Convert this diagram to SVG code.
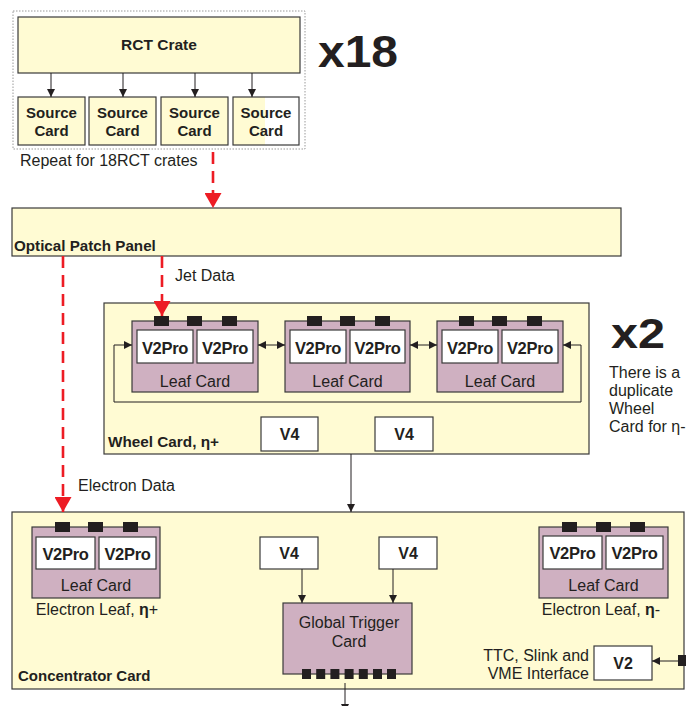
<svg xmlns="http://www.w3.org/2000/svg" width="686" height="706" viewBox="0 0 686 706">
<style>
.y{fill:#fffbd3;stroke:#3a3a3a;stroke-width:1.2}
.m{fill:#cfb0c1;stroke:#3a3a3a;stroke-width:1.2}
.w{fill:#ffffff;stroke:#3a3a3a;stroke-width:1.2}
.c{fill:#231f20}
.ln{stroke:#231f20;stroke-width:1;fill:none}
.red{stroke:#ed1c24;stroke-width:2.6;fill:none;stroke-dasharray:12 7}
text{font-family:"Liberation Sans",Arial,sans-serif;fill:#231f20}
.b{font-weight:bold}
.t15{font-size:15px}
.t16{font-size:16px}
.vp{font-size:16.5px;font-weight:bold;letter-spacing:-0.3px;text-anchor:middle}
.mid{text-anchor:middle}
.end{text-anchor:end}
</style>
<defs>
<marker id="ah" markerUnits="userSpaceOnUse" markerWidth="8" markerHeight="8" refX="8" refY="4" orient="auto-start-reverse"><path d="M0,0 L8,4 L0,8 z" fill="#231f20"/></marker>
<marker id="rh" markerUnits="userSpaceOnUse" markerWidth="16" markerHeight="17" refX="15" refY="8.5" orient="auto"><path d="M0,0 L15,8.5 L0,17 z" fill="#ed1c24"/></marker>
</defs>

<g id="rct-group">
<rect x="13" y="11" width="292" height="138" fill="#ffffff" stroke="#9a9a9a" stroke-width="1" stroke-dasharray="1.5 1.5"/>
</g>
<g id="rct-crate">
<rect class="y" x="18" y="17" width="282" height="56"/>
<text class="b mid" font-size="15.5" x="159" y="50">RCT Crate</text>
</g>
<g id="source-card-1">
<rect class="y" x="18" y="97" width="67" height="48"/>
<text class="b t15 mid" x="51.5" y="118">Source</text>
<text class="b t15 mid" x="51.5" y="136">Card</text>
</g>
<g id="source-card-2">
<rect class="y" x="89" y="97" width="67" height="48"/>
<text class="b t15 mid" x="122.5" y="118">Source</text>
<text class="b t15 mid" x="122.5" y="136">Card</text>
</g>
<g id="source-card-3">
<rect class="y" x="161" y="97" width="67" height="48"/>
<text class="b t15 mid" x="194.5" y="118">Source</text>
<text class="b t15 mid" x="194.5" y="136">Card</text>
</g>
<g id="source-card-4">
<rect x="233" y="97" width="66" height="48" fill="#ffffff"/>
<rect x="233" y="97" width="32" height="48" fill="#fffbd3"/>
<rect x="233" y="97" width="66" height="48" fill="none" stroke="#3a3a3a" stroke-width="1.2"/>
<text class="b t15 mid" x="266" y="118">Source</text>
<text class="b t15 mid" x="266" y="136">Card</text>
</g>
<text class="t16" x="20" y="166">Repeat for 18RCT crates</text>
<text class="b" x="318" y="67" font-size="44" textLength="80" lengthAdjust="spacingAndGlyphs">x18</text>

<g id="optical-patch-panel">
<rect class="y" x="12" y="208" width="609" height="48"/>
<text class="b" font-size="15.2" x="14" y="251">Optical Patch Panel</text>
</g>

<g id="wheel-card">
<rect class="y" x="104" y="303" width="485" height="151"/>
<text class="b" font-size="15.3" x="108" y="447">Wheel Card, η+</text>
</g>
<g id="wheel-leaf-1">
<rect class="m" x="132" y="321" width="126" height="71"/>
<rect class="c" x="154" y="316" width="15" height="10"/>
<rect class="c" x="187" y="316" width="15" height="10"/>
<rect class="c" x="222" y="316" width="15" height="10"/>
<rect class="w" x="137" y="330" width="56" height="33"/>
<rect class="w" x="197" y="330" width="56" height="33"/>
<text class="vp" x="165" y="354">V2Pro</text>
<text class="vp" x="225" y="354">V2Pro</text>
<text class="t16 mid" x="195" y="387">Leaf Card</text>
</g>
<g id="wheel-leaf-2">
<rect class="m" x="285" y="321" width="125" height="71"/>
<rect class="c" x="307" y="316" width="15" height="10"/>
<rect class="c" x="340" y="316" width="15" height="10"/>
<rect class="c" x="375" y="316" width="15" height="10"/>
<rect class="w" x="290" y="330" width="56" height="33"/>
<rect class="w" x="350" y="330" width="55" height="33"/>
<text class="vp" x="318" y="354">V2Pro</text>
<text class="vp" x="377.5" y="354">V2Pro</text>
<text class="t16 mid" x="347.5" y="387">Leaf Card</text>
</g>
<g id="wheel-leaf-3">
<rect class="m" x="437" y="321" width="126" height="71"/>
<rect class="c" x="459" y="316" width="15" height="10"/>
<rect class="c" x="492" y="316" width="15" height="10"/>
<rect class="c" x="527" y="316" width="15" height="10"/>
<rect class="w" x="442" y="330" width="56" height="33"/>
<rect class="w" x="502" y="330" width="56" height="33"/>
<text class="vp" x="470" y="354">V2Pro</text>
<text class="vp" x="530" y="354">V2Pro</text>
<text class="t16 mid" x="500" y="387">Leaf Card</text>
</g>
<g id="wheel-v4-1">
<rect class="w" x="261" y="417" width="57" height="34"/>
<text class="b t16 mid" x="289.5" y="440">V4</text>
</g>
<g id="wheel-v4-2">
<rect class="w" x="375" y="417" width="58" height="34"/>
<text class="b t16 mid" x="404" y="440">V4</text>
</g>
<text class="b" x="611" y="348" font-size="43" textLength="54" lengthAdjust="spacingAndGlyphs">x2</text>
<text class="t16" x="609" y="378">There is a</text>
<text class="t16" x="609" y="396">duplicate</text>
<text class="t16" x="609" y="414">Wheel</text>
<text class="t16" x="609" y="432">Card for η-</text>

<g id="concentrator-card">
<rect class="y" x="12" y="512" width="672" height="177"/>
<text class="b t15" x="18" y="681">Concentrator Card</text>
</g>
<g id="electron-leaf-plus">
<rect class="m" x="32" y="527" width="128" height="71"/>
<rect class="c" x="55" y="522" width="15" height="10"/>
<rect class="c" x="88" y="522" width="15" height="10"/>
<rect class="c" x="123" y="522" width="15" height="10"/>
<rect class="w" x="36" y="537" width="59" height="32"/>
<rect class="w" x="99" y="537" width="57" height="32"/>
<text class="vp" x="65.5" y="560">V2Pro</text>
<text class="vp" x="127.5" y="560">V2Pro</text>
<text class="t16 mid" x="96" y="591">Leaf Card</text>
<text class="t16 mid" x="97" y="615">Electron Leaf, <tspan class="b">η</tspan>+</text>
</g>
<g id="electron-leaf-minus">
<rect class="m" x="539" y="527" width="129" height="71"/>
<rect class="c" x="562" y="522" width="15" height="10"/>
<rect class="c" x="596" y="522" width="15" height="10"/>
<rect class="c" x="630" y="522" width="15" height="10"/>
<rect class="w" x="543" y="536" width="59" height="33"/>
<rect class="w" x="606" y="536" width="57" height="33"/>
<text class="vp" x="572.5" y="559">V2Pro</text>
<text class="vp" x="634.5" y="559">V2Pro</text>
<text class="t16 mid" x="603.5" y="591">Leaf Card</text>
<text class="t16 mid" x="601" y="615">Electron Leaf, <tspan class="b">η</tspan>-</text>
</g>
<g id="conc-v4-1">
<rect class="w" x="260" y="537" width="58" height="32"/>
<text class="b t16 mid" x="289" y="559">V4</text>
</g>
<g id="conc-v4-2">
<rect class="w" x="379" y="537" width="58" height="32"/>
<text class="b t16 mid" x="408" y="559">V4</text>
</g>
<g id="global-trigger-card">
<rect class="m" x="283" y="603" width="129" height="71"/>
<text class="t16 mid" x="349" y="628">Global Trigger</text>
<text class="t16 mid" x="349" y="647">Card</text>
<rect class="c" x="302" y="669" width="9" height="10"/>
<rect class="c" x="316.2" y="669" width="9" height="10"/>
<rect class="c" x="330.4" y="669" width="9" height="10"/>
<rect class="c" x="344.6" y="669" width="9" height="10"/>
<rect class="c" x="358.8" y="669" width="9" height="10"/>
<rect class="c" x="373" y="669" width="9" height="10"/>
<rect class="c" x="387" y="669" width="9" height="10"/>
</g>
<g id="v2-interface">
<rect class="w" x="594" y="646" width="58" height="34"/>
<text class="b t16 mid" x="623" y="669">V2</text>
<text class="t16 end" x="589" y="661">TTC, Slink and</text>
<text class="t16 end" x="589" y="679">VME Interface</text>
<rect class="c" x="678" y="655" width="9" height="11"/>
</g>

<g id="connectors">
<line class="ln" x1="51" y1="73" x2="51" y2="97" marker-end="url(#ah)"/>
<line class="ln" x1="123" y1="73" x2="123" y2="97" marker-end="url(#ah)"/>
<line class="ln" x1="195" y1="73" x2="195" y2="97" marker-end="url(#ah)"/>
<line class="ln" x1="252" y1="73" x2="252" y2="97" marker-end="url(#ah)"/>
<line class="red" x1="213" y1="152" x2="213" y2="208" marker-end="url(#rh)"/>
<line class="red" x1="162" y1="256" x2="162" y2="316" marker-end="url(#rh)"/>
<text class="t16" x="175" y="281">Jet Data</text>
<line class="red" x1="63" y1="256" x2="63" y2="512" marker-end="url(#rh)"/>
<text class="t16" x="78" y="491">Electron Data</text>
<line class="ln" x1="258" y1="345" x2="285" y2="345" marker-start="url(#ah)" marker-end="url(#ah)"/>
<line class="ln" x1="410" y1="345" x2="437" y2="345" marker-start="url(#ah)" marker-end="url(#ah)"/>
<path class="ln" d="M563,345 H581 V402 H114 V345 H132" marker-start="url(#ah)" marker-end="url(#ah)"/>
<line class="ln" x1="351" y1="454" x2="351" y2="512" marker-end="url(#ah)"/>
<line class="ln" x1="302" y1="569" x2="302" y2="603" marker-end="url(#ah)"/>
<line class="ln" x1="393" y1="569" x2="393" y2="603" marker-end="url(#ah)"/>
<line class="ln" x1="345" y1="683" x2="345" y2="712" marker-end="url(#ah)"/>
<line class="ln" x1="678" y1="661" x2="652" y2="661" marker-end="url(#ah)"/>
</g>
</svg>
